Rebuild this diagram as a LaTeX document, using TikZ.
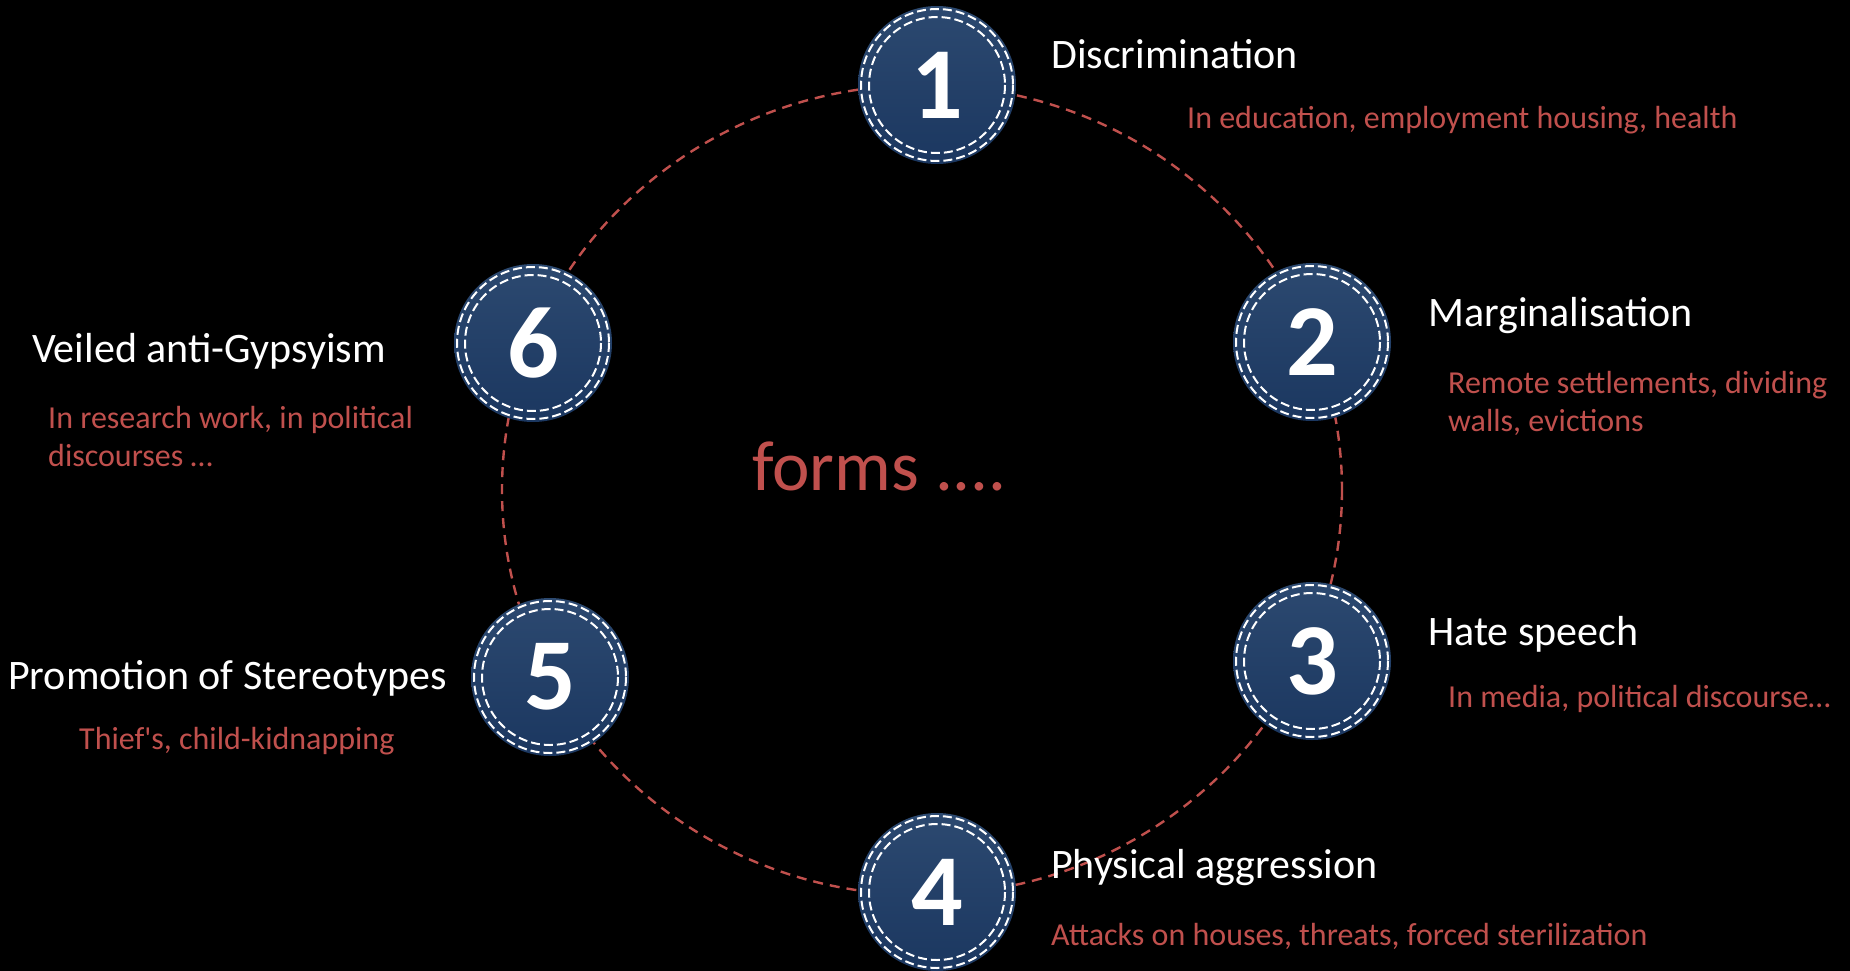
\documentclass[tikz,border=0pt]{standalone}
\usepackage{fontspec}
\setmainfont{Carlito}[Ligatures=TeXOff]
\usetikzlibrary{positioning}
\definecolor{navytop}{RGB}{44,73,112}
\definecolor{navybot}{RGB}{27,55,96}
\definecolor{formred}{RGB}{192,80,77}

\begin{document}
\begin{tikzpicture}[x=1pt,y=-1pt,
  ring/.style={draw=white,dash pattern=on 9pt off 4pt,line width=2pt},
  numbox/.style={circle,minimum size=158pt,inner sep=0pt,top color=navytop,bottom color=navybot,
    text=white,font=\fontsize{102}{102}\selectfont\bfseries},
  title/.style={anchor=base west,inner sep=0pt,text=white,font=\fontsize{42}{50}\selectfont},
  sub/.style={anchor=base west,inner sep=0pt,text=formred,align=left,font=\fontsize{32}{38}\selectfont}]
\useasboundingbox (0,0) rectangle (1850,971);
\fill[black] (0,0) rectangle (1850,971);

% dashed ring behind the numbers
\coordinate (mid) at (922,490);
\draw[formred,line width=2.4pt,dash pattern=on 10pt off 7pt] (mid) ellipse [x radius=420,y radius=405];
\node[anchor=base west,inner sep=0pt,text=formred,font=\fontsize{71}{80}\selectfont] (forms) at (752,490) {forms ....};

\foreach \p[count=\i] in {{937,85},{1312,342},{1312,661},{937,892},{550,677},{533,343}}{
  \node[numbox] (n\i) at (\p) {\i};
  \draw[ring] (n\i.center) circle[radius=76];
  \draw[ring] (n\i.center) circle[radius=68];
}

% labels (base of the last line for two-line texts)
\node[title] (t1) at (1051,69) {Discrimination};
\node[sub] (s1) at (1187,129) {In education, employment housing, health};
\node[title] (t2) at (1428,326) {Marginalisation};
\node[sub] (s2) at (1448,431) {Remote settlements, dividing\\walls, evictions};
\node[title] (t3) at (1428,645) {Hate speech};
\node[sub] (s3) at (1448,707) {In media, political discourse\dots};
\node[title] (t4) at (1051,878) {Physical aggression};
\node[sub] (s4) at (1051,945) {Attacks on houses, threats, forced sterilization};
\node[title] (t5) at (8,689) {Promotion of Stereotypes};
\node[sub] (s5) at (79,749) {Thief's, child-kidnapping};
\node[title] (t6) at (32,362) {Veiled anti-Gypsyism};
\node[sub] (s6) at (48,466) {In research work, in political\\discourses \dots};
\end{tikzpicture}
\end{document}
